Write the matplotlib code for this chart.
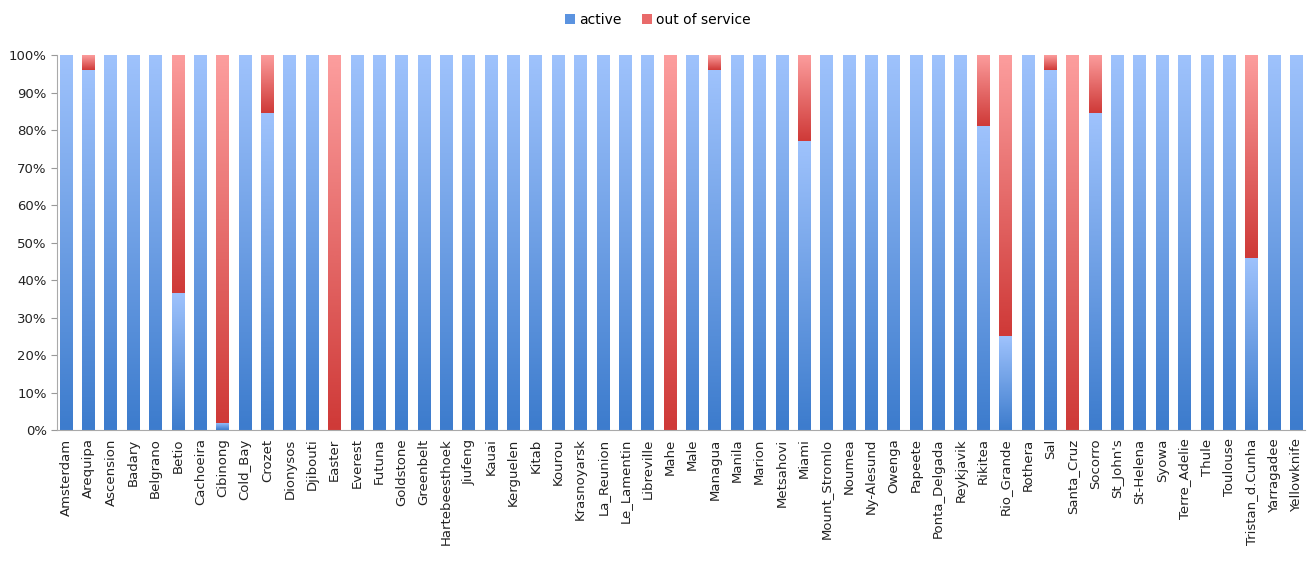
import numpy as np
import matplotlib
matplotlib.use('Agg')
import matplotlib.pyplot as plt
from matplotlib.colors import LinearSegmentedColormap
from matplotlib.patches import Patch
from matplotlib.ticker import PercentFormatter

stations = ['Amsterdam', 'Arequipa', 'Ascension', 'Badary', 'Belgrano', 'Betio',
            'Cachoeira', 'Cibinong', 'Cold_Bay', 'Crozet', 'Dionysos', 'Djibouti',
            'Easter', 'Everest', 'Futuna', 'Goldstone', 'Greenbelt', 'Hartebeesthoek',
            'Jiufeng', 'Kauai', 'Kerguelen', 'Kitab', 'Kourou', 'Krasnoyarsk',
            'La_Reunion', 'Le_Lamentin', 'Libreville', 'Mahe', 'Male', 'Managua',
            'Manila', 'Marion', 'Metsahovi', 'Miami', 'Mount_Stromlo', 'Noumea',
            'Ny-Alesund', 'Owenga', 'Papeete', 'Ponta_Delgada', 'Reykjavik', 'Rikitea',
            'Rio_Grande', 'Rothera', 'Sal', 'Santa_Cruz', 'Socorro', "St_John's",
            'St-Helena', 'Syowa', 'Terre_Adelie', 'Thule', 'Toulouse',
            'Tristan_d.Cunha', 'Yarragadee', 'Yellowknife']
active = [100, 96, 100, 100, 100, 36.5, 100, 2, 100, 84.5, 100, 100,
          0, 100, 100, 100, 100, 100, 100, 100, 100, 100, 100, 100,
          100, 100, 100, 0, 100, 96, 100, 100, 100, 77, 100, 100,
          100, 100, 100, 100, 100, 81, 25, 100, 96, 0, 84.5, 100,
          100, 100, 100, 100, 100, 46, 100, 100]
out_of_service = [100 - a for a in active]

blue_cmap = LinearSegmentedColormap.from_list('b', ['#3d7ccd', '#9ec2fc'])
red_cmap = LinearSegmentedColormap.from_list('r', ['#cf3a38', '#fc9d9d'])

fig = plt.figure(figsize=(13.16, 5.63), dpi=100)
ax = fig.add_axes([0.0435, 0.236, 0.9485, 0.666])

x = np.arange(len(stations))
grad = np.linspace(0, 1, 64).reshape(-1, 1)


def gradient_bars(bars, cmap):
    for b in bars:
        h = b.get_height()
        if h <= 0:
            continue
        b.set_facecolor('none')
        b.set_edgecolor('none')
        x0 = b.get_x()
        y0 = b.get_y()
        im = ax.imshow(grad, cmap=cmap, origin='lower', aspect='auto',
                       extent=(x0, x0 + b.get_width(), y0, y0 + h),
                       interpolation='bicubic', zorder=2)
        im.set_clip_path(b)


b1 = ax.bar(x, active, width=0.58)
b2 = ax.bar(x, out_of_service, width=0.58, bottom=active)
gradient_bars(b1, blue_cmap)
gradient_bars(b2, red_cmap)

ax.set_xlim(-0.4, len(stations) - 0.6)
ax.set_ylim(0, 100)
ax.set_yticks(np.arange(0, 101, 10))
ax.yaxis.set_major_formatter(PercentFormatter(decimals=0))
ax.set_xticks(x)
ax.set_xticklabels(stations, rotation=90, fontsize=9.5, color='#222222')
ax.tick_params(axis='y', labelsize=9.5, colors='#222222', length=4, color='#999999')
ax.tick_params(axis='x', length=0, pad=6)
for s in ['top', 'right']:
    ax.spines[s].set_visible(False)
for s in ['left', 'bottom']:
    ax.spines[s].set_color('#aaaaaa')

handles = [Patch(facecolor='#5b93e0', label='active'),
           Patch(facecolor='#e96a6a', label='out of service')]
fig.legend(handles=handles, loc='upper center', bbox_to_anchor=(0.5, 1.0),
           ncol=2, frameon=False, fontsize=10, handlelength=0.7, handleheight=0.7,
           handletextpad=0.3, columnspacing=1.5)

fig.savefig('out.png', dpi=100)
